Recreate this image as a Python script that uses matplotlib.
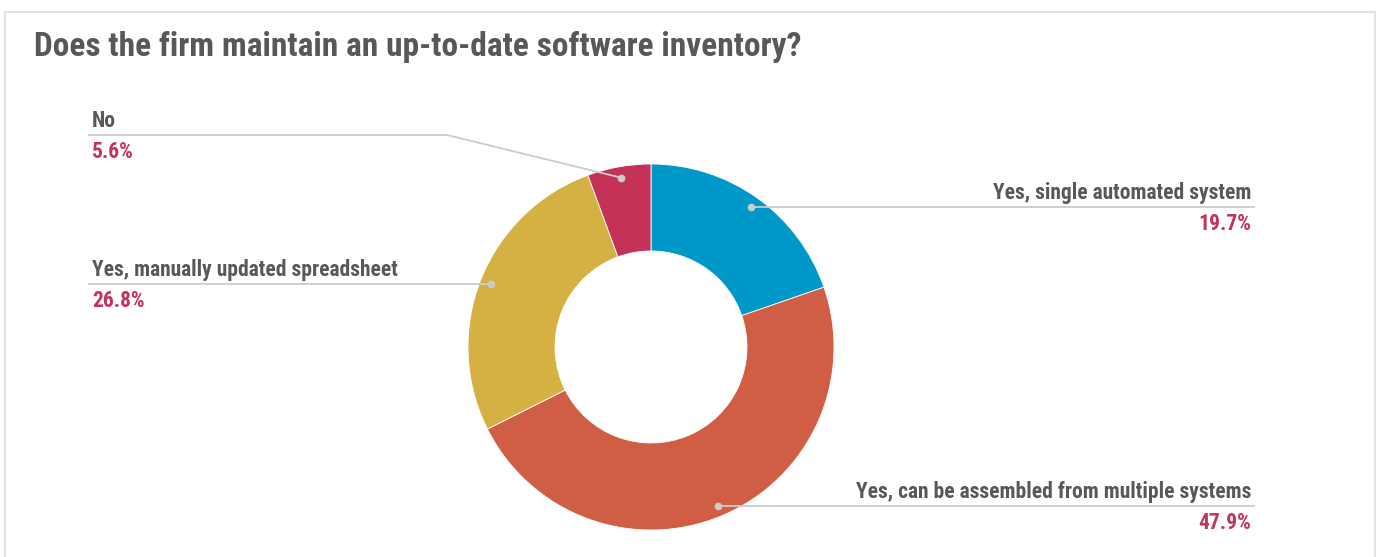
import matplotlib
matplotlib.use("Agg")
import numpy as np
import matplotlib.pyplot as plt
from matplotlib import font_manager
from matplotlib.patches import Rectangle

# survey answers, clockwise from 12 o'clock
labels = ["Yes, single automated system",
          "Yes, can be assembled from multiple systems",
          "Yes, manually updated spreadsheet",
          "No"]
shares = [19.7, 47.9, 26.8, 5.6]
colors = ["#0098c8", "#d05e45", "#d4b142", "#c43357"]

title = "Does the firm maintain an up-to-date software inventory?"

# pick a condensed face if one is around
names = {f.name for f in font_manager.fontManager.ttflist}
family = "DejaVu Sans"
for cand in ["Roboto Condensed", "Liberation Sans Narrow", "DejaVu Sans Condensed", "Roboto"]:
    if cand in names:
        family = cand
        break
plt.rcParams["font.family"] = family

W, H = 1380, 557
fig = plt.figure(figsize=(W / 100, H / 100), dpi=100)
ax = fig.add_axes([0, 0, 1, 1])

# pixel space, y counted from the top of the image
def fy(y):
    return H - y

cx, cy, R = 651, 347, 183
ax.pie(shares, colors=colors, radius=R, center=(cx, fy(cy)), startangle=90,
       counterclock=False,
       wedgeprops=dict(width=87, edgecolor="white", linewidth=0.6))
ax.set_xlim(0, W)
ax.set_ylim(0, H)
ax.set_aspect("equal")
ax.axis("off")

# card outline
ax.add_patch(Rectangle((5, -20), 1370, H - 12 + 20, fill=False,
                       edgecolor="#e2e2e2", linewidth=1.5))

ax.text(34, fy(56), title, fontsize=24, fontweight="bold", color="#58585a")

txt = "#58585a"
pct = "#c4335a"
line = "#cccccc"
fs = 15.5

# the small top slice gets its label lifted clear of the ring
lift = {"No": (135, 447)}

cum = np.cumsum([0] + shares[:-1])
for i, (lab, s) in enumerate(zip(labels, shares)):
    mid = np.radians((cum[i] + s / 2) * 3.6)
    dx = 0.94 * R * np.sin(mid)
    dy = 0.94 * R * np.cos(mid)
    px, py = cx + dx, fy(cy) + dy
    if dx > 0:
        # right-hand labels
        ax.plot([px, 1254], [py, py], color=line, lw=1.3, zorder=3)
        ax.text(1251, py + 8, lab, ha="right", fontsize=fs,
                fontweight="bold", color=txt)
        ax.text(1251, py - 23, f"{s}%", ha="right", fontsize=fs,
                fontweight="bold", color=pct)
    else:
        if lab in lift:
            ly, bx = lift[lab]
            ly = fy(ly)
            ax.plot([89, bx, px], [ly, ly, py], color=line, lw=1.3, zorder=3)
        else:
            ly = py
            ax.plot([89, px], [py, py], color=line, lw=1.3, zorder=3)
        ax.text(92, ly + 8, lab, ha="left", fontsize=fs,
                fontweight="bold", color=txt)
        ax.text(92, ly - 23, f"{s}%", ha="left", fontsize=fs,
                fontweight="bold", color=pct)
    ax.plot(px, py, "o", ms=4.5, color=line, zorder=4)

fig.savefig("out.png", dpi=100, facecolor="white")
